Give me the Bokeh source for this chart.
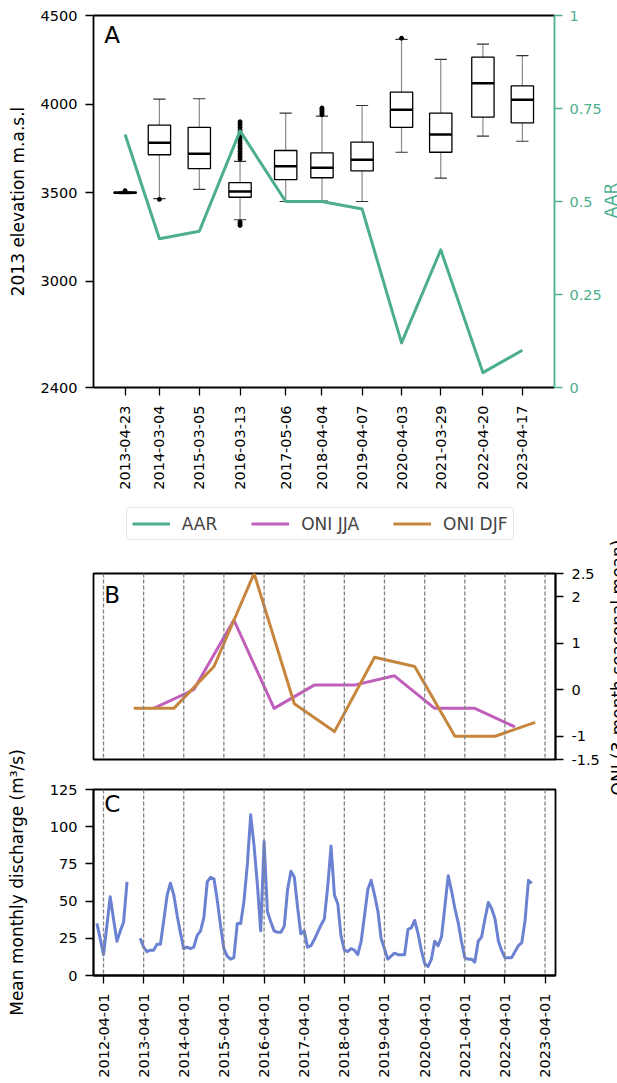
import numpy as np
import pandas as pd
from math import pi
from bokeh.plotting import figure
from bokeh.layouts import column, row
from bokeh.models import (Range1d, LinearAxis, FixedTicker, DatetimeTickFormatter,
                          CustomJSTickFormatter, Span, Label, Legend, LegendItem,
                          ColumnDataSource)
from bokeh.embed import file_html
from bokeh.resources import INLINE

# ---------------- data ----------------
image_dates = ["2013-04-23", "2014-03-04", "2015-03-05", "2016-03-13", "2017-05-06",
               "2018-04-04", "2019-04-07", "2020-04-03", "2021-03-29", "2022-04-20",
               "2023-04-17"]
elev_whisker_low = [3495, 3466, 3518, 3347, 3450, 3452, 3450, 3728, 3582, 3819, 3790]
elev_q1 = [3497, 3714, 3636, 3474, 3573, 3584, 3623, 3868, 3728, 3926, 3894]
elev_median = [3500, 3781, 3719, 3506, 3649, 3640, 3685, 3968, 3828, 4118, 4024]
elev_q3 = [3503, 3881, 3869, 3556, 3738, 3725, 3785, 4067, 3949, 4265, 4103]
elev_whisker_high = [3505, 4028, 4030, 3677, 3949, 3932, 3992, 4365, 4252, 4338, 4274]

outlier_dates = (["2013-04-23", "2014-03-04"] + ["2016-03-13"] * 18
                 + ["2018-04-04"] * 5 + ["2020-04-03"])
outlier_values = ([3511, 3462]
                  + [3690, 3705, 3720, 3735, 3750, 3765, 3780, 3795, 3810, 3825, 3840,
                     3855, 3870, 3885, 3900, 3335, 3325, 3315]
                  + [3940, 3950, 3960, 3970, 3978] + [4372])

aar = [0.68, 0.40, 0.42, 0.69, 0.50, 0.50, 0.48, 0.12, 0.37, 0.04, 0.10]

elev_ticks = [2400, 3000, 3500, 4000, 4500]
aar_ticks = [0, 0.25, 0.5, 0.75, 1]

oni_jja_dates = ["2013-07-01", "2014-07-01", "2015-07-01", "2016-07-01", "2017-07-01",
                 "2018-07-01", "2019-07-01", "2020-07-01", "2021-07-01", "2022-07-01"]
oni_jja = [-0.4, 0.0, 1.5, -0.4, 0.1, 0.1, 0.3, -0.4, -0.4, -0.8]
oni_djf_dates = ["2013-01-01", "2014-01-01", "2015-01-01", "2016-01-01", "2017-01-01",
                 "2018-01-01", "2019-01-01", "2020-01-01", "2021-01-01", "2022-01-01",
                 "2023-01-01"]
oni_djf = [-0.4, -0.4, 0.5, 2.5, -0.3, -0.9, 0.7, 0.5, -1.0, -1.0, -0.7]
oni_ticks = [-1.5, -1, 0, 1, 2, 2.5]

nan = float("nan")
discharge_first_month = "2012-02-01"
discharge = [35, 25, 14, 33, 53, 38, 23, 30, 36, 63,
             nan, nan, nan,
             25, 19, 16, 17, 17, 21, 21, 37, 54, 62, 54, 40, 29,
             18, 19, 18, 19, 27, 30, 39, 63, 66, 65, 50, 34,
             18, 13, 11, 12, 35, 35, 50, 75, 108, 87, 60, 30,
             90, 43, 36, 30, 29, 29, 33, 58, 70, 66, 45, 28,
             30, 19, 20, 24, 29, 34, 38, 60, 87, 54, 48, 27,
             17, 16, 18, 17, 14, 23, 40, 58, 64, 54, 43, 25,
             18, 11, 13, 15, 14, 14, 14, 31, 32, 37, 28, 17,
             8, 6, 11, 23, 20, 26, 46, 67, 57, 45, 35, 23,
             12, 11, 11, 9, 23, 26, 38, 49, 45, 38, 23, 17,
             12, 12, 12, 16, 20, 22, 37, 64, 62]
discharge_ticks = [0, 25, 50, 75, 100, 125]
hydro_year_starts = ["2012-04-01", "2013-04-01", "2014-04-01", "2015-04-01", "2016-04-01",
                     "2017-04-01", "2018-04-01", "2019-04-01", "2020-04-01", "2021-04-01",
                     "2022-04-01", "2023-04-01"]

# ---------------- style ----------------
FONT = "DejaVu Sans"
GREEN = "#4cae8c"
MAGENTA = "#c05fbb"
ORANGE = "#c7863d"
BLUE = "#6b82d2"
DAY = 86400000.0
W_MAIN = 604      # width of the main column (panels), a text strip fills the rest
W_STRIP_R = 617 - W_MAIN
W_STRIP_L = 30


def ms(d):
    return pd.Timestamp(d).value / 1e6


DATEFMT = "%Y-%m-%d"


def date_formatter():
    return DatetimeTickFormatter(microseconds=DATEFMT, milliseconds=DATEFMT, seconds=DATEFMT,
                                 minsec=DATEFMT, minutes=DATEFMT, hourmin=DATEFMT,
                                 hours=DATEFMT, days=DATEFMT, months=DATEFMT, years=DATEFMT)


def style_axis(ax, color="black"):
    ax.axis_line_color = color
    ax.axis_line_width = 1.8
    ax.major_tick_line_color = color
    ax.major_tick_line_width = 1.3
    ax.major_tick_out = 8
    ax.major_tick_in = 0
    ax.minor_tick_line_color = None
    ax.major_label_text_color = color
    ax.major_label_text_font = FONT
    ax.major_label_text_font_size = "14.5px"
    ax.major_label_standoff = 8
    ax.axis_label_text_font = FONT
    ax.axis_label_text_font_size = "17px"
    ax.axis_label_text_font_style = "normal"
    ax.axis_label_text_color = color


def base_fig(w, h, left, right, top, bottom, x_range, y_range, **kw):
    p = figure(width=w, height=h, x_range=x_range, y_range=y_range,
               output_backend="svg", toolbar_location=None,
               min_border_left=left, min_border_right=right, min_border_top=top,
               min_border_bottom=bottom, **kw)
    p.grid.visible = False
    p.background_fill_color = "white"
    p.border_fill_color = "white"
    return p


def panel_letter(p, text, y_from_bottom):
    p.add_layout(Label(x=10.7, y=y_from_bottom, x_units="screen", y_units="screen", text=text,
                       text_font=FONT, text_font_size="23px", text_baseline="middle",
                       text_align="left", text_color="black"))


# ---------------- panel A ----------------
pA = base_fig(W_MAIN, 500, 93, W_MAIN - 93 - 462, 15, 113,
              Range1d(ms("2012-07-07"), ms("2024-02-06")), Range1d(2400, 4500),
              x_axis_type="datetime")
pA.outline_line_color = None
pA.extra_y_ranges = {"aar": Range1d(0, 1)}

xa = pA.xaxis[0]
style_axis(xa)
xa.ticker = FixedTicker(ticks=[ms(d) for d in image_dates])
xa.formatter = date_formatter()
xa.major_label_orientation = pi / 2
xa.major_label_standoff = 10

ya = pA.yaxis[0]
style_axis(ya)
ya.ticker = FixedTicker(ticks=elev_ticks)
ya.axis_label = "2013 elevation m.a.s.l"
ya.axis_label_standoff = 10

ra = LinearAxis(y_range_name="aar", ticker=FixedTicker(ticks=aar_ticks),
                formatter=CustomJSTickFormatter(code="return tick.toString();"))
style_axis(ra, GREEN)
ra.major_label_standoff = 7
pA.add_layout(ra, "right")

ta = LinearAxis(ticker=FixedTicker(ticks=[]))
style_axis(ta)
ta.major_label_text_font_size = "0px"
pA.add_layout(ta, "above")

bx = np.array([ms(d) for d in image_dates])
box_half = 102.5 * DAY
cap_half = 56 * DAY
bsrc = ColumnDataSource(dict(x=bx, x_lo=bx - box_half, x_hi=bx + box_half,
                             c_lo=bx - cap_half, c_hi=bx + cap_half,
                             wl=elev_whisker_low, q1=elev_q1, med=elev_median,
                             q3=elev_q3, wh=elev_whisker_high))
pA.segment(x0="x", y0="wl", x1="x", y1="q1", source=bsrc, line_color="#8a8a8a", line_width=1.2)
pA.segment(x0="x", y0="q3", x1="x", y1="wh", source=bsrc, line_color="#8a8a8a", line_width=1.2)
pA.segment(x0="c_lo", y0="wl", x1="c_hi", y1="wl", source=bsrc, line_color="#333333", line_width=1.2)
pA.segment(x0="c_lo", y0="wh", x1="c_hi", y1="wh", source=bsrc, line_color="#333333", line_width=1.2)
pA.quad(left="x_lo", right="x_hi", bottom="q1", top="q3", source=bsrc,
        fill_color="white", line_color="black", line_width=1.3)
pA.segment(x0="x_lo", y0="med", x1="x_hi", y1="med", source=bsrc, line_color="black", line_width=2.5)
pA.scatter(x=[ms(d) for d in outlier_dates], y=outlier_values, size=4,
           marker="circle", color="black")
pA.line(x=bx, y=aar, y_range_name="aar", line_color=GREEN, line_width=3, line_join="round")

panel_letter(pA, "A", 372 - 19.5)

# ---------------- legend strip ----------------
W_SUB = W_MAIN - W_STRIP_L
pL = base_fig(W_SUB, 45, 63, W_SUB - 63 - 462, 2, 2, Range1d(0, 1), Range1d(0, 1),
              x_axis_location=None, y_axis_location=None)
pL.outline_line_color = None
# legend keys only: the series themselves are drawn in panels A and B
blank = [nan, nan]
l_aar = pL.line(x=blank, y=blank, line_color=GREEN, line_width=3)
l_jja = pL.line(x=blank, y=blank, line_color=MAGENTA, line_width=3)
l_djf = pL.line(x=blank, y=blank, line_color=ORANGE, line_width=3)
legend = Legend(items=[LegendItem(label="AAR", renderers=[l_aar], index=0),
                       LegendItem(label="ONI JJA", renderers=[l_jja], index=0),
                       LegendItem(label="ONI DJF", renderers=[l_djf], index=0)],
                orientation="horizontal", location=(32.7, 2.7))
legend.label_text_font = FONT
legend.label_text_font_size = "17px"
legend.glyph_width = 38
legend.glyph_height = 21
legend.label_height = 21
legend.label_standoff = 12
legend.spacing = 34
legend.padding = 5
legend.margin = 0
legend.border_line_color = "#cccccc"
legend.border_line_width = 1.2
legend.background_fill_color = "white"
legend.background_fill_alpha = 1.0
if "border_radius" in Legend.properties():
    legend.border_radius = 4
pL.add_layout(legend)

# ---------------- panel B ----------------
xr_bc = Range1d(ms("2012-01-01"), ms("2023-07-05"))
pB = base_fig(W_SUB, 225, 63, W_SUB - 63 - 462, 28, 11, xr_bc, Range1d(-1.5, 2.5),
              x_axis_type="datetime", y_axis_location="right")
pB.outline_line_color = "black"
pB.outline_line_width = 1.8
pB.xaxis.visible = False
yb = pB.yaxis[0]
style_axis(yb)
yb.ticker = FixedTicker(ticks=oni_ticks)
yb.formatter = CustomJSTickFormatter(code="return tick.toString();")

for d in hydro_year_starts:
    pB.add_layout(Span(location=ms(d), dimension="height", line_color="#808080",
                       line_width=1.3, line_dash="4 2"))

pB.line(x=[ms(d) for d in oni_jja_dates], y=oni_jja, line_color=MAGENTA,
        line_width=3, line_join="round")
pB.line(x=[ms(d) for d in oni_djf_dates], y=oni_djf, line_color=ORANGE,
        line_width=3, line_join="round")
panel_letter(pB, "B", 186 - 21)

# ---------------- panel C ----------------
pC = base_fig(W_SUB, 313, 63, W_SUB - 63 - 462, 19, 108, xr_bc, Range1d(0, 125),
              x_axis_type="datetime")
pC.outline_line_color = "black"
pC.outline_line_width = 1.8
xc = pC.xaxis[0]
style_axis(xc)
xc.ticker = FixedTicker(ticks=[ms(d) for d in hydro_year_starts])
xc.formatter = date_formatter()
xc.major_label_orientation = pi / 2
xc.major_label_standoff = 10
yc = pC.yaxis[0]
style_axis(yc)
yc.ticker = FixedTicker(ticks=discharge_ticks)

for d in hydro_year_starts:
    pC.add_layout(Span(location=ms(d), dimension="height", line_color="#808080",
                       line_width=1.3, line_dash="4 2"))

months = pd.date_range(discharge_first_month, periods=len(discharge), freq="MS")
pC.line(x=[ms(m) for m in months], y=np.array(discharge, dtype=float), line_color=BLUE,
        line_width=3, line_join="round")
panel_letter(pC, "C", 186 - 14.4)

# ---------------- text strips (axis titles that overhang panels) ----------------
sL = base_fig(W_STRIP_L, 583, 0, 0, 0, 0, Range1d(0, W_STRIP_L), Range1d(1083, 500),
              x_axis_location=None, y_axis_location=None)
sL.outline_line_color = None
sL.add_layout(Label(x=16.2, y=882, text="Mean monthly discharge (m\u00b3/s)", angle=pi / 2,
                    text_align="center", text_baseline="middle", text_font=FONT,
                    text_font_size="17px", text_color="black"))

sR = base_fig(W_STRIP_R, 1083, 0, 0, 0, 0, Range1d(W_MAIN, 617), Range1d(1083, 0),
              x_axis_location=None, y_axis_location=None)
sR.outline_line_color = None
sR.add_layout(Label(x=610.4, y=200, text="AAR", angle=pi / 2,
                    text_align="center", text_baseline="middle", text_font=FONT,
                    text_font_size="17px", text_color=GREEN))
sR.add_layout(Label(x=617.9, y=667, text="ONI (3-month seasonal mean)", angle=pi / 2,
                    text_align="center", text_baseline="middle", text_font=FONT,
                    text_font_size="17px", text_color="black"))

lower = row(sL, column(pL, pB, pC, spacing=0), spacing=0)
layout = row(column(pA, lower, spacing=0), sR, spacing=0)
open("out.html", "w").write(file_html(layout, INLINE))
